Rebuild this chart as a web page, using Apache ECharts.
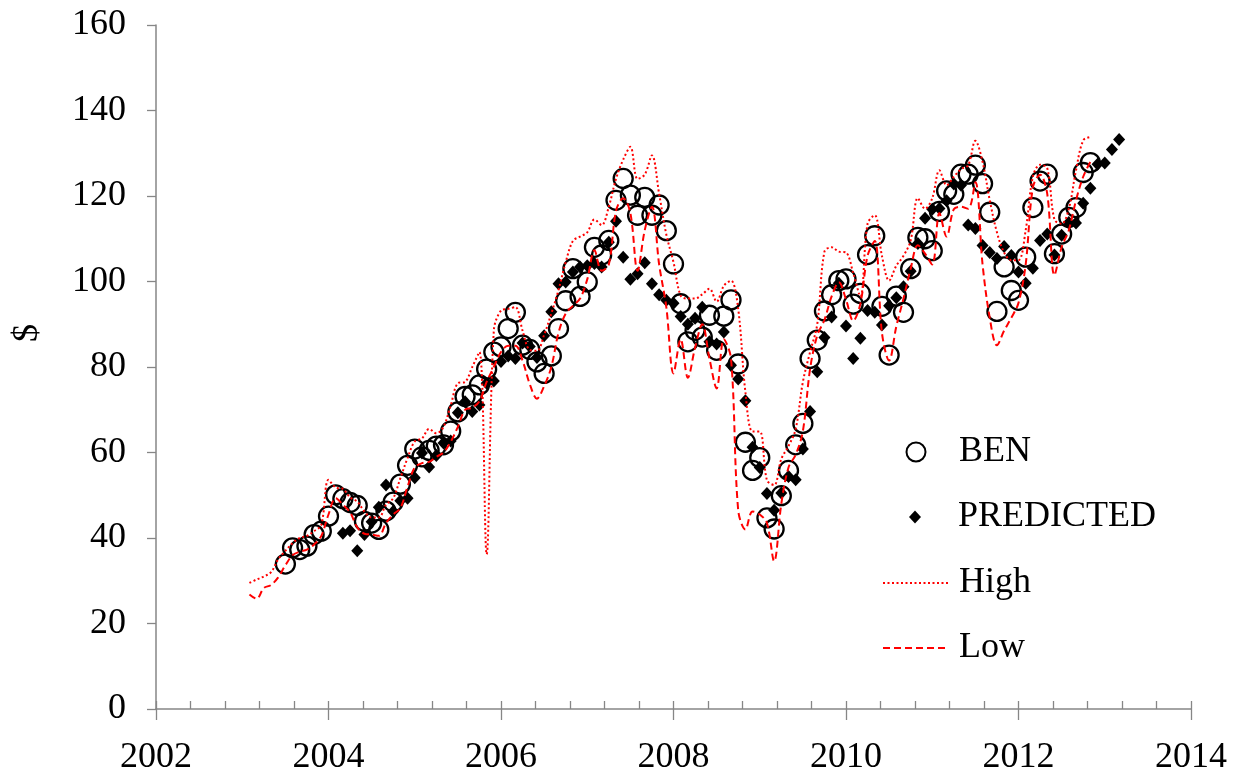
<!DOCTYPE html>
<html>
<head>
<meta charset="utf-8">
<script src="https://cdn.jsdelivr.net/npm/echarts@6/dist/echarts.min.js"></script>
<style>
html,body{margin:0;padding:0;background:#fff;}
#chart{width:1249px;height:776px;}
</style>
</head>
<body>
<div id="chart"></div>
<script>
// ---- Data (monthly observations, decimal-year start of each series) ----
const benStart = 2003.5;          // first BEN observation (Jul 2003)
const predStart = 2004 + 2 / 12;  // first PREDICTED observation
const hlStart = 2003 + 1 / 12;    // first High / Low observation

const ben = [33.9,37.7,37.3,38.1,40.8,41.6,45.1,50.1,49.2,48.3,47.6,43.9,43.5,42.0,46.3,48.4,52.6,57.0,60.8,59.0,
60.5,61.5,61.8,65.0,69.5,73.1,73.5,75.8,79.5,83.5,84.7,89.0,92.8,85.1,84.1,81.2,78.5,82.6,89.0,95.5,
103.0,96.5,99.9,108.0,106.2,109.6,119.0,124.1,120.2,115.5,119.7,115.5,117.9,111.9,104.1,94.8,85.9,88.6,87.0,92.1,
83.9,91.9,95.7,80.7,62.4,55.8,58.8,44.7,42.1,49.9,55.8,61.8,66.8,82.0,86.3,93.1,96.9,100.2,100.6,94.7,
97.2,106.3,110.7,94.2,82.8,96.6,92.8,103.0,110.3,110.0,107.2,116.4,121.2,120.4,125.1,125.1,127.2,122.9,116.2,93.0,
103.4,97.9,95.6,105.7,117.3,123.5,125.1,106.5,111.1,115.0,117.3,125.5,127.8];

const predicted = [41.1,41.7,37.0,40.8,43.8,47.2,52.4,46.2,48.7,49.3,54.1,59.9,56.6,59.3,62.2,62.7,69.3,71.9,69.6,71.1,
76.2,76.7,81.3,82.6,82.0,85.6,84.8,82.2,87.3,92.9,99.5,99.9,102.2,103.4,103.7,104.2,103.4,109.2,114.1,105.7,
100.5,101.8,104.4,99.5,96.9,95.6,94.9,91.8,90.0,91.4,94.0,85.9,85.4,88.2,80.4,77.2,72.1,61.2,56.5,50.4,
46.5,50.5,54.4,53.6,60.8,69.6,78.9,86.9,91.7,99.6,89.6,82.0,86.7,93.2,92.8,89.8,94.3,96.2,98.8,102.4,
108.9,114.8,116.9,117.1,118.9,122.8,122.5,113.2,112.4,108.4,106.8,105.4,108.2,106.1,102.2,99.6,103.1,109.6,111.1,106.2,
110.8,113.8,113.7,118.3,121.8,127.4,127.7,130.9,133.2];

const high = [29.5,30.3,31.0,32.0,35.0,37.0,38.8,40.0,40.5,41.6,43.1,53.6,51.8,51.5,49.5,48.5,46.2,44.8,44.8,47.8,
49.3,54.0,58.7,62.6,63.3,65.5,64.5,66.0,71.0,76.2,76.5,80.0,83.5,36.2,88.5,93.2,93.6,94.0,88.5,84.0,
83.8,87.5,92.5,98.0,104.5,109.5,110.5,111.5,114.5,113.2,117.5,124.0,128.5,131.5,124.0,125.0,129.5,120.5,111.0,104.5,
96.7,96.0,96.0,97.0,98.3,95.3,99.0,100.2,93.6,74.2,64.9,64.9,53.5,52.4,58.5,61.5,65.5,76.5,83.5,90.0,
107.0,108.0,107.0,106.8,102.0,96.5,113.5,115.5,106.0,100.2,103.7,106.0,109.6,119.5,117.0,119.5,126.0,122.5,124.5,126.3,
127.2,132.9,128.0,119.0,111.5,106.8,105.0,105.0,112.0,124.5,127.3,126.5,114.5,113.5,117.0,126.0,133.0,133.8];

const low = [26.8,25.8,28.3,29.0,30.8,33.6,36.0,36.8,37.3,38.5,40.5,45.5,49.3,47.8,46.0,42.5,41.0,40.8,40.5,43.5,
45.5,47.0,52.0,56.5,57.5,57.8,59.0,60.0,62.5,66.0,70.0,70.5,72.0,76.5,80.0,83.5,85.0,85.0,81.5,76.0,
72.6,75.5,80.0,88.0,92.5,94.3,96.0,100.5,107.3,102.5,104.0,116.5,119.5,116.0,102.5,112.0,117.5,104.0,94.0,78.5,
86.5,77.5,84.5,90.0,82.0,75.0,86.5,82.0,46.5,42.0,46.2,45.5,43.5,34.6,48.0,56.5,59.5,65.0,79.5,87.4,
91.0,96.5,99.8,95.8,90.8,94.8,106.0,109.5,88.0,81.5,89.5,96.0,103.0,108.5,106.5,104.0,116.0,110.5,116.9,117.5,
117.0,123.2,104.0,91.5,85.1,88.5,91.5,95.0,104.0,122.0,125.0,120.5,101.5,108.0,112.0,119.0,124.5,128.0];

const yearTicks = [2002, 2004, 2006, 2008, 2010, 2012, 2014];

function monthly(start, values) {
  return values.map((v, i) => [start + i / 12, v]);
}

const FONT = 'Liberation Serif';
const AXIS_GREY = '#868686';

const chart = echarts.init(document.getElementById('chart'), null, {renderer: 'canvas'});

// legend icon centre x = 915, legend text starts at x = 958
function legendAt(name, centerY, w, h, extra) {
  const left = 915 - w / 2;
  return Object.assign({
    data: [name], orient: 'vertical', left: left, top: centerY - 18, padding: 0,
    itemWidth: w, itemHeight: h, selectedMode: false,
    textStyle: {fontFamily: FONT, fontSize: 36, color: '#000', lineHeight: 36,
                padding: [0, 0, 0, 958 - (left + w + 5)]}
  }, extra || {});
}

chart.setOption({
  animation: false,
  backgroundColor: '#fff',
  grid: {left: 156, right: 58, top: 25, bottom: 65, containLabel: false},
  legend: [
    legendAt('BEN', 452, 19, 19),
    legendAt('PREDICTED', 517, 12, 13),
    legendAt('High', 583, 66, 14, {itemStyle: {opacity: 0}}),
    legendAt('Low', 648, 66, 14, {itemStyle: {opacity: 0}})
  ],
  xAxis: [{
    type: 'value', min: yearTicks[0], max: yearTicks[yearTicks.length - 1], interval: 2,
    axisLine: {show: true, lineStyle: {color: AXIS_GREY, width: 1.5}},
    axisTick: {show: true, inside: true, length: 8, lineStyle: {color: AXIS_GREY, width: 1.3}},
    minorTick: {show: true, splitNumber: 5, length: 8, lineStyle: {color: AXIS_GREY, width: 1.3}},
    splitLine: {show: false},
    axisLabel: {fontFamily: FONT, fontSize: 36, color: '#000', margin: 31, formatter: v => String(v)}
  }, {
    type: 'value', min: yearTicks[0], max: yearTicks[yearTicks.length - 1], interval: 2, position: 'bottom',
    axisLine: {show: false},
    axisTick: {show: true, inside: false, length: 11, lineStyle: {color: AXIS_GREY, width: 1.3}},
    splitLine: {show: false},
    axisLabel: {show: false}
  }],
  yAxis: {
    type: 'value', min: 0, max: 160, interval: 20,
    name: '$', nameLocation: 'middle', nameGap: 110, nameRotate: 90,
    nameTextStyle: {fontFamily: FONT, fontSize: 36, color: '#000', padding: [0, 0, 0, 68]},
    axisLine: {show: true, lineStyle: {color: AXIS_GREY, width: 1.5}},
    axisTick: {show: true, inside: false, length: 9, lineStyle: {color: AXIS_GREY, width: 1.3}},
    splitLine: {show: false},
    axisLabel: {fontFamily: FONT, fontSize: 36, color: '#000', margin: 30}
  },
  series: [
    {
      name: 'BEN', type: 'scatter', data: monthly(benStart, ben),
      symbol: 'circle', symbolSize: 19,
      itemStyle: {color: 'rgba(255,255,255,0)', borderColor: '#000', borderWidth: 2.3, opacity: 1}
    },
    {
      name: 'PREDICTED', type: 'scatter', data: monthly(predStart, predicted),
      symbol: 'diamond', symbolSize: [12, 13],
      itemStyle: {color: '#000', opacity: 1}
    },
    {
      name: 'High', type: 'line', data: monthly(hlStart, high),
      smooth: 0.35, symbol: 'none', showSymbol: false,
      lineStyle: {color: '#ff0000', width: 2, type: [2, 2.5]},
      itemStyle: {color: '#ff0000'}
    },
    {
      name: 'Low', type: 'line', data: monthly(hlStart, low),
      smooth: 0.35, symbol: 'none', showSymbol: false,
      lineStyle: {color: '#ff0000', width: 2, type: [7, 4]},
      itemStyle: {color: '#ff0000'}
    }
  ]
});
</script>
</body>
</html>
